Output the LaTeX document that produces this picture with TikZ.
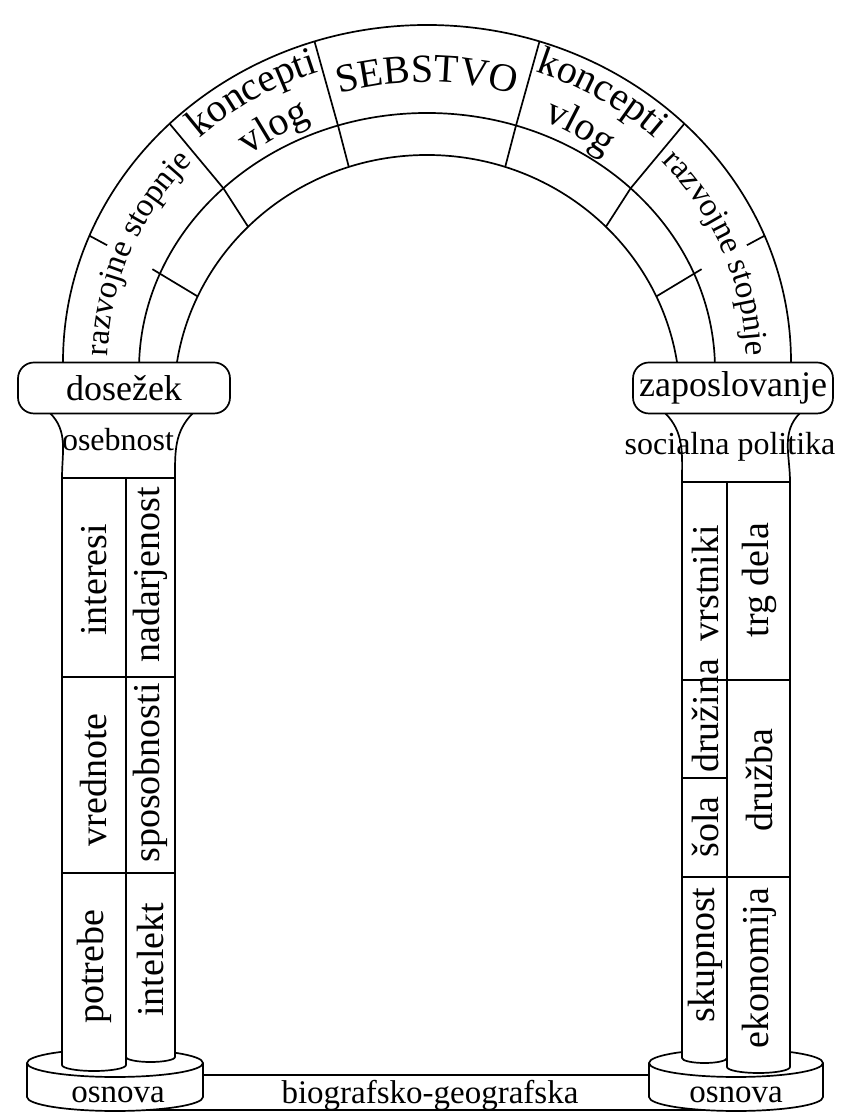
\documentclass[tikz,border=0pt]{standalone}
\usepackage{fontspec}
\setmainfont{Liberation Serif}
\usetikzlibrary{calc,decorations.text}

\begin{document}
\begin{tikzpicture}[
        x=1pt, y=1pt, line width=1.7pt,
        % Stil za kapitel (zaobljen pravokotnik z napisom)
        capital/.style={draw, fill=white, rounded corners=16pt, minimum width=#1, minimum height=51pt, inner sep=0pt, font=\fontsize{36}{36}\selectfont},
        % Stil za navpicne napise v stebrih
        stolpec/.style={rotate=90, inner sep=0pt, font=\fontsize{38}{38}\selectfont},
        % Stil za vodoravne napise
        napis/.style={inner sep=0pt, font=\fontsize{33}{33}\selectfont},
        % Stil za napise vzdolz loka
        lokbesedilo/.style 2 args={decorate, decoration={text along path, text align=center, text={|\fontsize{#1}{#1}\selectfont|#2}}}
    ]
        \useasboundingbox (0,0) rectangle (846,1113);

        % --- PODSTAVEK ---
        \draw[fill=white] (115,3) rectangle (736,38);
        \draw[fill=white] (27,50) -- (27,16) arc[start angle=180, end angle=360, x radius=88, y radius=14] -- (203,50) arc[start angle=0, end angle=180, x radius=88, y radius=14] -- cycle;
        \draw (27,50) arc[start angle=180, end angle=360, x radius=88, y radius=14];
        \draw[fill=white] (649,50) -- (649,16) arc[start angle=180, end angle=360, x radius=87, y radius=14] -- (823,50) arc[start angle=0, end angle=180, x radius=87, y radius=14] -- cycle;
        \draw (649,50) arc[start angle=180, end angle=360, x radius=87, y radius=14];

        % --- STEBRI ---
        % Levi steber (zadaj intelekt, spredaj potrebe)
        \draw[fill=white] (126,635) -- (126,56) arc[start angle=180, end angle=360, x radius=24.5, y radius=5] -- (175,635) -- cycle;
        \draw[fill=white] (62,635) -- (62,48) arc[start angle=180, end angle=360, x radius=32, y radius=6] -- (126,635) -- cycle;
        \draw (62,436) -- (175,436);
        \draw (62,240) -- (175,240);

        % Desni steber (zadaj skupnost, spredaj ekonomija)
        \draw[fill=white] (682,631) -- (682,55) arc[start angle=180, end angle=360, x radius=22.5, y radius=5] -- (727,631) -- cycle;
        \draw[fill=white] (727,631) -- (727,46) arc[start angle=180, end angle=360, x radius=31.5, y radius=6] -- (790,631) -- cycle;
        \draw (682,433) -- (790,433);
        \draw (682,335) -- (727,335);
        \draw (682,236) -- (790,236);

        % Vratovi pod kapiteli
        \draw (50,700) to[out=-45, in=90] (62,635);
        \draw (193,700) to[out=-135, in=90] (175,635);
        \draw (665,700) to[out=-45, in=90] (682,631);
        \draw (800,700) to[out=-135, in=90] (790,631);

        % --- LOK ---
        \coordinate (lokO) at (427,751);
        \coordinate (lokM) at (427,743);
        \coordinate (lokI) at (427,713);
        \begin{scope}
            \clip (0,751) rectangle (846,1113);
            \draw (lokO) ellipse [x radius=364, y radius=337];
            \draw (lokM) ellipse [x radius=288, y radius=257];
            \draw (lokI) ellipse [x radius=253, y radius=245];
        \end{scope}

        % Pregrade med polji loka
        \foreach \a in {45,72,108,135}
            \draw ($(lokO)+(\a:364 and 337)$) -- ($(lokM)+(\a:288 and 257)$) -- ($(lokI)+(\a:253 and 245)$);

        % Kratke pregrade ob vznozju loka
        \foreach \a/\b in {158/155, 22/25} {
            \coordinate (o) at ($(lokO)+(\a:364 and 337)$);
            \coordinate (m) at ($(lokM)+(\a:288 and 257)$);
            \coordinate (i) at ($(lokI)+(\b:253 and 245)$);
            \draw (o) -- ($(o)!0.25!(m)$);
            \draw ($(i)!1.2!(m)$) -- (i);
        }

        % --- KAPITELA ---
        \node[capital=212pt] (dosezek) at (124,725) {dosežek};
        \node[capital=200pt] (zaposlovanje) at (733,725) {zaposlovanje};
        \node[napis, font=\fontsize{32}{32}\selectfont] (osebnost) at (118,673) {osebnost};
        \node[napis, font=\fontsize{32}{32}\selectfont] (socialna) at (730,666) {socialna politika};

        % --- NAPISI NA LOKU ---
        \path[lokbesedilo={33}{razvojne stopnje}] ($(lokO)+(196:319 and 295)$) arc[start angle=196, end angle=121, x radius=319, y radius=295];
        \path[lokbesedilo={40}{koncepti}] ($(lokO)+(150:332 and 307)$) arc[start angle=150, end angle=93, x radius=332, y radius=307];
        \path[lokbesedilo={40}{vlog}] ($(lokO)+(144:286 and 264)$) arc[start angle=144, end angle=99, x radius=286, y radius=264];
        \path[lokbesedilo={40}{SEBSTVO}] ($(lokO)+(110:302 and 280)$) arc[start angle=110, end angle=70, x radius=302, y radius=280];
        \path[lokbesedilo={40}{koncepti}] ($(lokO)+(87:332 and 307)$) arc[start angle=87, end angle=30, x radius=332, y radius=307];
        \path[lokbesedilo={40}{vlog}] ($(lokO)+(81:286 and 264)$) arc[start angle=81, end angle=36, x radius=286, y radius=264];
        \path[lokbesedilo={33}{razvojne stopnje}] ($(lokO)+(59:319 and 295)$) arc[start angle=59, end angle=-16, x radius=319, y radius=295];

        % --- NAPISI V STEBRIH ---
        \node[stolpec] (interesi) at (94,533) {interesi};
        \node[stolpec] (vrednote) at (94,333) {vrednote};
        \node[stolpec] (potrebe) at (94,146) {potrebe};
        \node[stolpec] (nadarjenost) at (150,538) {nadarjenost};
        \node[stolpec] (sposobnosti) at (150,340) {sposobnosti};
        \node[stolpec] (intelekt) at (150,153) {intelekt};

        \node[stolpec] (vrstniki) at (705,530) {vrstniki};
        \node[stolpec] (druzina) at (705,397) {družina};
        \node[stolpec] (sola) at (705,286) {šola};
        \node[stolpec] (skupnost) at (705,158) {skupnost};
        \node[stolpec] (trgdela) at (759,533) {trg dela};
        \node[stolpec] (druzba) at (759,333) {družba};
        \node[stolpec] (ekonomija) at (759,145) {ekonomija};

        % --- OSNOVA ---
        \node[napis] (osnovaL) at (118,18) {osnova};
        \node[napis] (osnovaD) at (736,18) {osnova};
        \node[napis] (biografsko) at (430,18) {biografsko-geografska};

\end{tikzpicture}
\end{document}
